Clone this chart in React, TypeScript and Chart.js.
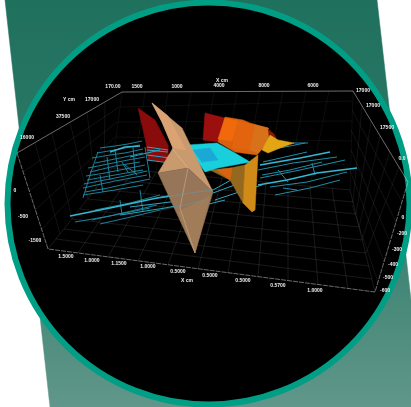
import React, { useEffect, useRef } from "react";
import { Chart, registerables } from "chart.js";

Chart.register(...registerables);

type P = [number, number];

// Backdrop
const backdropShape: P[] = [[5, 0], [377, 0], [411, 300], [411, 407], [50, 407]];
const discCentre: P[] = [[208.5, 203.5]];

// Box frame
const frameTop: P[] = [[17, 153], [122, 92], [353, 91], [408, 182]];
const frameBottom: P[] = [[17, 153], [48, 249], [375, 292], [408, 182]];

// Floor grid
const floorRows: P[][] = [
  [[56, 239], [372, 279]], [[64, 229], [369, 266]], [[72, 219], [366, 253]], [[80, 209], [362, 240]],
  [[88, 199], [359, 227]], [[96, 189], [356, 214]], [[104, 179], [353, 202]], [[112, 168], [350, 190]],
];
const floorColumns: P[][] = [
  [[48, 249], [112, 168]], [[78, 253], [134, 170]], [[108, 257], [156, 172]], [[138, 261], [178, 174]],
  [[168, 265], [200, 176]], [[198, 269], [222, 178]], [[228, 273], [244, 180]], [[258, 277], [266, 182]],
  [[288, 281], [288, 184]], [[318, 285], [310, 186]], [[348, 289], [332, 188]], [[375, 292], [350, 190]],
];
// Wall grids
const backWall: P[][] = [
  [[122, 92], [112, 168]], [[145, 92], [134, 170]], [[168, 92], [156, 172]], [[191, 92], [178, 174]],
  [[214, 92], [200, 176]], [[237, 92], [222, 178]], [[260, 92], [244, 180]], [[283, 91], [266, 182]],
  [[306, 91], [288, 184]], [[329, 91], [310, 186]], [[353, 91], [350, 190]],
  [[120, 107], [352, 101]], [[118, 122], [352, 121]], [[116, 137], [351, 141]], [[114, 152], [350, 165]],
];
const leftWall: P[][] = [
  [[105, 102], [104, 179]], [[87, 112], [96, 189]], [[70, 122], [88, 199]], [[52, 133], [72, 219]], [[35, 143], [60, 234]],
  [[119, 107], [23, 172]], [[117, 122], [29, 191]], [[115, 137], [35, 210]], [[114, 152], [41, 230]],
];
const rightWall: P[][] = [
  [[362, 106], [353, 202]], [[371, 121], [356, 214]], [[380, 136], [359, 227]], [[390, 151], [362, 240]], [[399, 167], [366, 253]],
  [[352, 110], [402, 202]], [[351, 130], [396, 222]], [[351, 150], [390, 242]], [[350, 170], [384, 262]],
  [[352, 205], [378, 282]],
];

// Cyan contour traces
const leftTraces: P[][] = [
  [[97, 153], [120, 149], [140, 145]], [[95, 163], [120, 158], [143, 153]], [[90, 172], [115, 166], [140, 162]],
  [[87, 180], [115, 175], [143, 170]], [[83, 188], [115, 181], [147, 175]], [[83, 195], [115, 190], [143, 185]],
  [[100, 148], [115, 146], [128, 144], [142, 141]], [[92, 158], [110, 155], [125, 153], [143, 149]],
  [[88, 168], [108, 164], [128, 160], [145, 157]], [[86, 176], [105, 173], [125, 169], [145, 165]],
  [[84, 184], [105, 180], [125, 176], [147, 171]], [[85, 192], [108, 188], [130, 183], [150, 179]],
  [[92, 220], [127, 212], [157, 205]], [[75, 222], [110, 216], [150, 208]], [[95, 210], [130, 203], [160, 195]], [[100, 224], [135, 216], [160, 210]],
  [[98, 152], [90, 175], [83, 198]], [[133, 147], [135, 173]], [[107, 157], [110, 180]], [[122, 162], [128, 172]],
  [[115, 150], [118, 172]], [[145, 147], [150, 178]], [[125, 165], [137, 175]], [[100, 175], [103, 192]], [[140, 190], [143, 212]], [[120, 200], [122, 215]],
];
const leftStrong: P[][] = [[[70, 216], [110, 208], [157, 198], [190, 193]], [[110, 152], [125, 147], [140, 146]]];
const middleTraces: P[][] = [
  [[130, 157], [160, 150]], [[147, 150], [168, 152]], [[147, 155], [170, 158]], [[147, 147], [168, 150]], [[147, 160], [170, 163]],
  [[130, 207], [170, 202], [210, 197]], [[157, 198], [190, 192], [213, 190], [240, 175]], [[213, 193], [240, 183], [257, 180]],
  [[120, 215], [165, 208], [205, 200]], [[215, 200], [245, 190], [262, 185]], [[205, 205], [225, 200]],
];
const rightTraces: P[][] = [
  [[258, 170], [293, 163], [337, 157]], [[270, 187], [307, 182], [347, 172]], [[278, 170], [288, 182]], [[312, 163], [315, 175]],
  [[293, 143], [308, 143]], [[263, 162], [307, 152]], [[283, 188], [297, 190]], [[262, 175], [290, 170], [322, 162]],
  [[260, 178], [300, 170], [345, 160]], [[275, 195], [310, 188], [340, 180]], [[268, 150], [290, 146], [305, 143]],
];
const rightStrong: P[][] = [[[260, 165], [300, 158], [330, 152]], [[258, 185], [287, 180], [317, 173], [357, 168]]];

// Coloured sheets
const redLeft: P[] = [[138, 108], [155, 120], [168, 145], [168, 162], [148, 160], [146, 143]];
const redRight: P[] = [[205, 113], [225, 118], [218, 142], [203, 140]];
const orangeSheet: P[] = [[225, 117], [243, 120], [250, 123], [268, 128], [268, 142], [257, 155], [235, 152], [218, 142]];
const orangeBright: P[] = [[225, 118], [238, 121], [232, 141], [218, 139]];
const orangeMid: P[] = [[238, 121], [255, 125], [250, 150], [232, 148]];
const orangeRight: P[] = [[255, 125], [268, 128], [268, 142], [258, 153], [250, 150]];
const darkSpot: P[] = [[268, 129], [274, 134], [277, 140], [270, 137]];
const yellowWedge: P[] = [[270, 135], [278, 140], [294, 143], [280, 148], [268, 153], [262, 150]];
const cyanSheet: P[] = [[188, 145], [217, 143], [235, 153], [250, 162], [218, 168], [205, 172], [198, 162]];
const blueCentre: P[] = [[193, 150], [210, 148], [218, 160], [202, 162]];
const amberLeft: P[] = [[210, 170], [230, 168], [245, 165], [243, 203], [230, 180]];
const amberRight: P[] = [[245, 165], [258, 155], [255, 210], [252, 212], [243, 203]];
const orangeDrape: P[] = [[217, 170], [232, 168], [230, 180]];
const tanUpper: P[] = [[152, 103], [182, 128], [213, 192], [188, 168], [158, 173], [173, 148], [162, 122]];
const tanLeftFacet: P[] = [[152, 103], [168, 116], [186, 150], [173, 148], [162, 122]];
const tanLower: P[] = [[158, 173], [188, 168], [213, 192], [195, 253]];
const tanLowerFacet: P[] = [[178, 212], [210, 196], [195, 253]];
const tanSeam: P[] = [[172, 148], [188, 168], [180, 208], [195, 253]];

// Text
const tickTexts = ["170.00", "1500", "1000", "4000", "8000", "6000", "X cm", "17000", "17000", "17500", "Y cm", "17000", "37500", "16000", "0", "-500", "-1500", "1.5000", "1.0000", "1.1500", "1.0000", "0.5000", "X cm", "0.5000", "0.5000", "0.5700", "1.0000", "-600", "-500", "-400", "-300", "-200", "0", "0.0"];
const tickAnchors: P[] = [[113, 87], [137, 87], [177, 87], [219, 86], [264, 86], [313, 86], [222, 81], [363, 91], [373, 106], [387, 128], [69, 100], [92, 100], [63, 117], [27, 138], [15, 191], [23, 217], [35, 241], [66, 257], [92, 261], [119, 264], [148, 267], [178, 272], [187, 281], [210, 276], [243, 281], [278, 286], [315, 291], [385, 291], [388, 278], [393, 265], [397, 250], [402, 234], [403, 218], [402, 159]];

const pts = (a: P[]) => a.map(([x, y]) => ({ x, y }));
const area = (a: P[], color: any) => ({
  data: pts([...a, a[0]]), showLine: true, fill: "shape", backgroundColor: color,
  borderColor: color, borderWidth: 0.5, pointRadius: 0, tension: 0, clip: false,
});
const stroke = (a: P[], color: string, width: number, dash: number[] = []) => ({
  data: pts(a), showLine: true, fill: false, borderColor: color, borderWidth: width,
  borderDash: dash, pointRadius: 0, tension: 0, clip: false,
});

const textPlugin = {
  id: "tickText",
  afterDatasetsDraw(chart: any) {
    const { ctx, scales } = chart;
    ctx.save();
    ctx.font = "bold 5px 'Liberation Sans'";
    ctx.fillStyle = "#f0f0f0";
    ctx.textAlign = "center";
    ctx.textBaseline = "middle";
    tickTexts.forEach((t, i) => {
      ctx.fillText(t, scales.x.getPixelForValue(tickAnchors[i][0]), scales.y.getPixelForValue(tickAnchors[i][1]));
    });
    ctx.restore();
  },
};

export default function App() {
  const ref = useRef<HTMLCanvasElement | null>(null);
  useEffect(() => {
    const canvas = ref.current!;
    const g = canvas.getContext("2d")!;
    const grad = g.createLinearGradient(0, 0, 0, 407);
    grad.addColorStop(0, "#1f705d");
    grad.addColorStop(0.45, "#2d7a68");
    grad.addColorStop(1, "#60978a");
    const paint: any[] = [
      area(backdropShape, grad),
      { data: pts(discCentre), pointRadius: 201, pointBackgroundColor: "#000", pointBorderColor: "#009e85", pointBorderWidth: 6, showLine: false, clip: false },
      ...floorRows.map((l) => stroke(l, "rgba(255,255,255,0.14)", 0.7)),
      ...floorColumns.map((l) => stroke(l, "rgba(255,255,255,0.14)", 0.7)),
      ...backWall.map((l) => stroke(l, "rgba(255,255,255,0.08)", 0.7)),
      ...leftWall.map((l) => stroke(l, "rgba(255,255,255,0.1)", 0.7)),
      ...rightWall.map((l) => stroke(l, "rgba(255,255,255,0.1)", 0.7)),
      stroke(frameTop, "rgba(225,225,225,0.6)", 0.8),
      stroke(frameBottom, "rgba(225,225,225,0.6)", 0.8, [5, 1]),
      ...leftTraces.map((l) => stroke(l, "#1f8da8", 0.9)),
      ...leftStrong.map((l) => stroke(l, "#35b8d0", 1.5)),
      ...rightTraces.map((l) => stroke(l, "#1f8da8", 1)),
      ...rightStrong.map((l) => stroke(l, "#35b8d0", 1.5)),
      area(redLeft, "#8a0b0b"),
      area(redRight, "#9c0f0f"),
      ...middleTraces.map((l) => stroke(l, "#2aa6c0", 1)),
      area(orangeSheet, "#d9600e"),
      area(orangeBright, "#f06a0c"),
      area(orangeMid, "#e2640f"),
      area(orangeRight, "#d8721a"),
      area(darkSpot, "#8a1608"),
      area(yellowWedge, "#e2a516"),
      area(amberLeft, "#94691f"),
      area(amberRight, "#d08a18"),
      area(orangeDrape, "#d9640f"),
      area(cyanSheet, "#19cfdc"),
      area(blueCentre, "#1aa9d4"),
      area(tanUpper, "#c99a6e"),
      area(tanLeftFacet, "#dba274"),
      area(tanLower, "#967558"),
      area(tanLowerFacet, "#a07c58"),
      stroke(tanSeam, "rgba(235,215,190,0.5)", 0.7),
      stroke([[160, 198], [190, 193], [213, 190]], "rgba(70,180,200,0.45)", 0.8),
      stroke([[160, 210], [185, 205], [205, 200]], "rgba(70,180,200,0.4)", 0.8),
    ];
    const chart = new Chart(canvas, {
      type: "scatter",
      data: { datasets: paint.reverse() },
      options: {
        animation: false,
        responsive: false,
        layout: { padding: 0, autoPadding: false },
        scales: {
          x: { type: "linear", min: 0, max: 411, display: false },
          y: { type: "linear", min: 0, max: 407, reverse: true, display: false },
        },
        plugins: { legend: { display: false }, tooltip: { enabled: false } },
      },
      plugins: [textPlugin],
    } as any);
    return () => chart.destroy();
  }, []);
  return (
    <div style={{ position: "absolute", left: 0, top: 0, width: 411, height: 407, overflow: "hidden" }}>
      <canvas ref={ref} width={411} height={407} style={{ display: "block", filter: "blur(0.6px)" }} />
    </div>
  );
}
